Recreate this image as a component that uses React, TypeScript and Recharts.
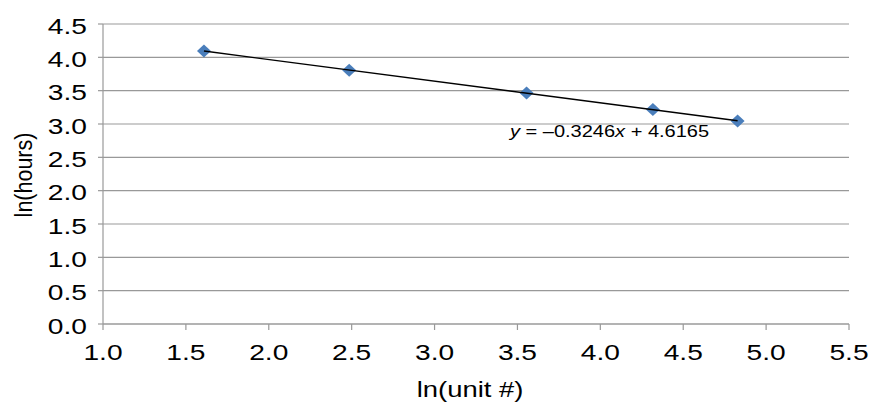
import React from "react";
import {
  ScatterChart,
  Scatter,
  XAxis,
  YAxis,
  CartesianGrid,
  ReferenceDot,
} from "recharts";

// ln(unit #) values of the observed units
const unitLn = [1.609, 2.485, 3.555, 4.317, 4.828];
// ln(hours) values of the observed units
const hoursLn = [4.094, 3.807, 3.466, 3.219, 3.045];
// trend line end points (from y = -0.3246x + 4.6165)
const trendX = [1.609, 4.828];
const trendY = [4.094, 3.049];
// tick labels
const xTicks = [1.0, 1.5, 2.0, 2.5, 3.0, 3.5, 4.0, 4.5, 5.0, 5.5];
const yTicks = [0.0, 0.5, 1.0, 1.5, 2.0, 2.5, 3.0, 3.5, 4.0, 4.5];
const equationText = { slope: "–0.3246", intercept: "4.6165" };
const equationPos = { x: 3.455, y: 2.81 };

const points = unitLn.map((x, i) => ({ x, y: hoursLn[i] }));
const trend = trendX.map((x, i) => ({ x, y: trendY[i] }));

const FONT = '"Liberation Sans", Arial, Helvetica, sans-serif';
const SX = 1.28;

const XTick = (props: any) => {
  const { x, y, payload } = props;
  return (
    <g transform={`translate(${x},${y})`}>
      <text
        transform={`scale(${SX},1)`}
        textAnchor="middle"
        dy={28}
        fontSize={22}
        fontFamily={FONT}
        fill="#000"
      >
        {Number(payload.value).toFixed(1)}
      </text>
    </g>
  );
};

const YTick = (props: any) => {
  const { x, y, payload } = props;
  return (
    <g transform={`translate(${x},${y})`}>
      <text
        transform={`scale(${SX},1)`}
        textAnchor="end"
        dy={9.8}
        fontSize={22}
        fontFamily={FONT}
        fill="#000"
      >
        {Number(payload.value).toFixed(1)}
      </text>
    </g>
  );
};

const Diamond = (props: any) => {
  const { cx, cy } = props;
  if (cx == null || cy == null) return <g />;
  return (
    <polygon
      points={`${cx},${cy - 6.5} ${cx + 7},${cy} ${cx},${cy + 6.5} ${cx - 7},${cy}`}
      fill="#4a7ebb"
    />
  );
};

const NoShape = () => <g />;

const XLabel = (props: any) => {
  const vb = props.viewBox || { x: 0, y: 0, width: 0, height: 0 };
  const cx = vb.x + vb.width / 2 - 6;
  const by = vb.y + 72.5;
  return (
    <g transform={`translate(${cx},${by})`}>
      <text
        transform={`scale(1.22,1)`}
        textAnchor="middle"
        fontSize={22.5}
        fontFamily={FONT}
        fill="#000"
      >
        ln(unit #)
      </text>
    </g>
  );
};

const YLabel = (props: any) => {
  const vb = props.viewBox || { x: 0, y: 0, width: 0, height: 0 };
  const bx = 31.5;
  const cy = vb.y + vb.height / 2 + 1;
  return (
    <g transform={`translate(${bx},${cy}) rotate(-90)`}>
      <text
        transform="scale(1,1.15)"
        textAnchor="middle"
        fontSize={21.5}
        fontFamily={FONT}
        fill="#000"
      >
        ln(hours)
      </text>
    </g>
  );
};

const Equation = (props: any) => {
  const { cx, cy } = props;
  if (cx == null || cy == null) return <g />;
  return (
    <g transform={`translate(${cx},${cy})`}>
      <text
        transform={`scale(1.25,1)`}
        textAnchor="start"
        fontSize={16}
        fontFamily={FONT}
        fill="#000"
      >
        <tspan fontStyle="italic">y</tspan>
        {` = ${equationText.slope}`}
        <tspan fontStyle="italic">x</tspan>
        {` + ${equationText.intercept}`}
      </text>
    </g>
  );
};

export default function App() {
  return (
    <div style={{ position: "absolute", left: 0, top: 0, width: 873, height: 402, background: "#fff" }}>
      <ScatterChart
        width={873}
        height={402}
        margin={{ top: 24, right: 24, left: 0, bottom: 0 }}
      >
        <CartesianGrid vertical={false} stroke="#999999" strokeWidth={1.2} />
        <XAxis
          type="number"
          dataKey="x"
          domain={[1, 5.5]}
          ticks={xTicks}
          interval={0}
          height={78}
          tickSize={6}
          tickMargin={2}
          tick={<XTick />}
          axisLine={{ stroke: "#999999", strokeWidth: 1.2 }}
          tickLine={{ stroke: "#999999", strokeWidth: 1.2 }}
          label={XLabel}
        />
        <YAxis
          type="number"
          dataKey="y"
          domain={[0, 4.5]}
          ticks={yTicks}
          interval={0}
          width={103}
          tickSize={5}
          tickMargin={11}
          tick={<YTick />}
          axisLine={{ stroke: "#999999", strokeWidth: 1.2 }}
          tickLine={{ stroke: "#999999", strokeWidth: 1.2 }}
          label={YLabel}
        />
        <Scatter
          data={points}
          shape={<Diamond />}
          isAnimationActive={false}
        />
        <Scatter
          data={trend}
          line={{ stroke: "#000", strokeWidth: 1.4 }}
          shape={<NoShape />}
          isAnimationActive={false}
        />
        <ReferenceDot
          x={equationPos.x}
          y={equationPos.y}
          r={0}
          shape={<Equation />}
          ifOverflow="visible"
        />
      </ScatterChart>
    </div>
  );
}
